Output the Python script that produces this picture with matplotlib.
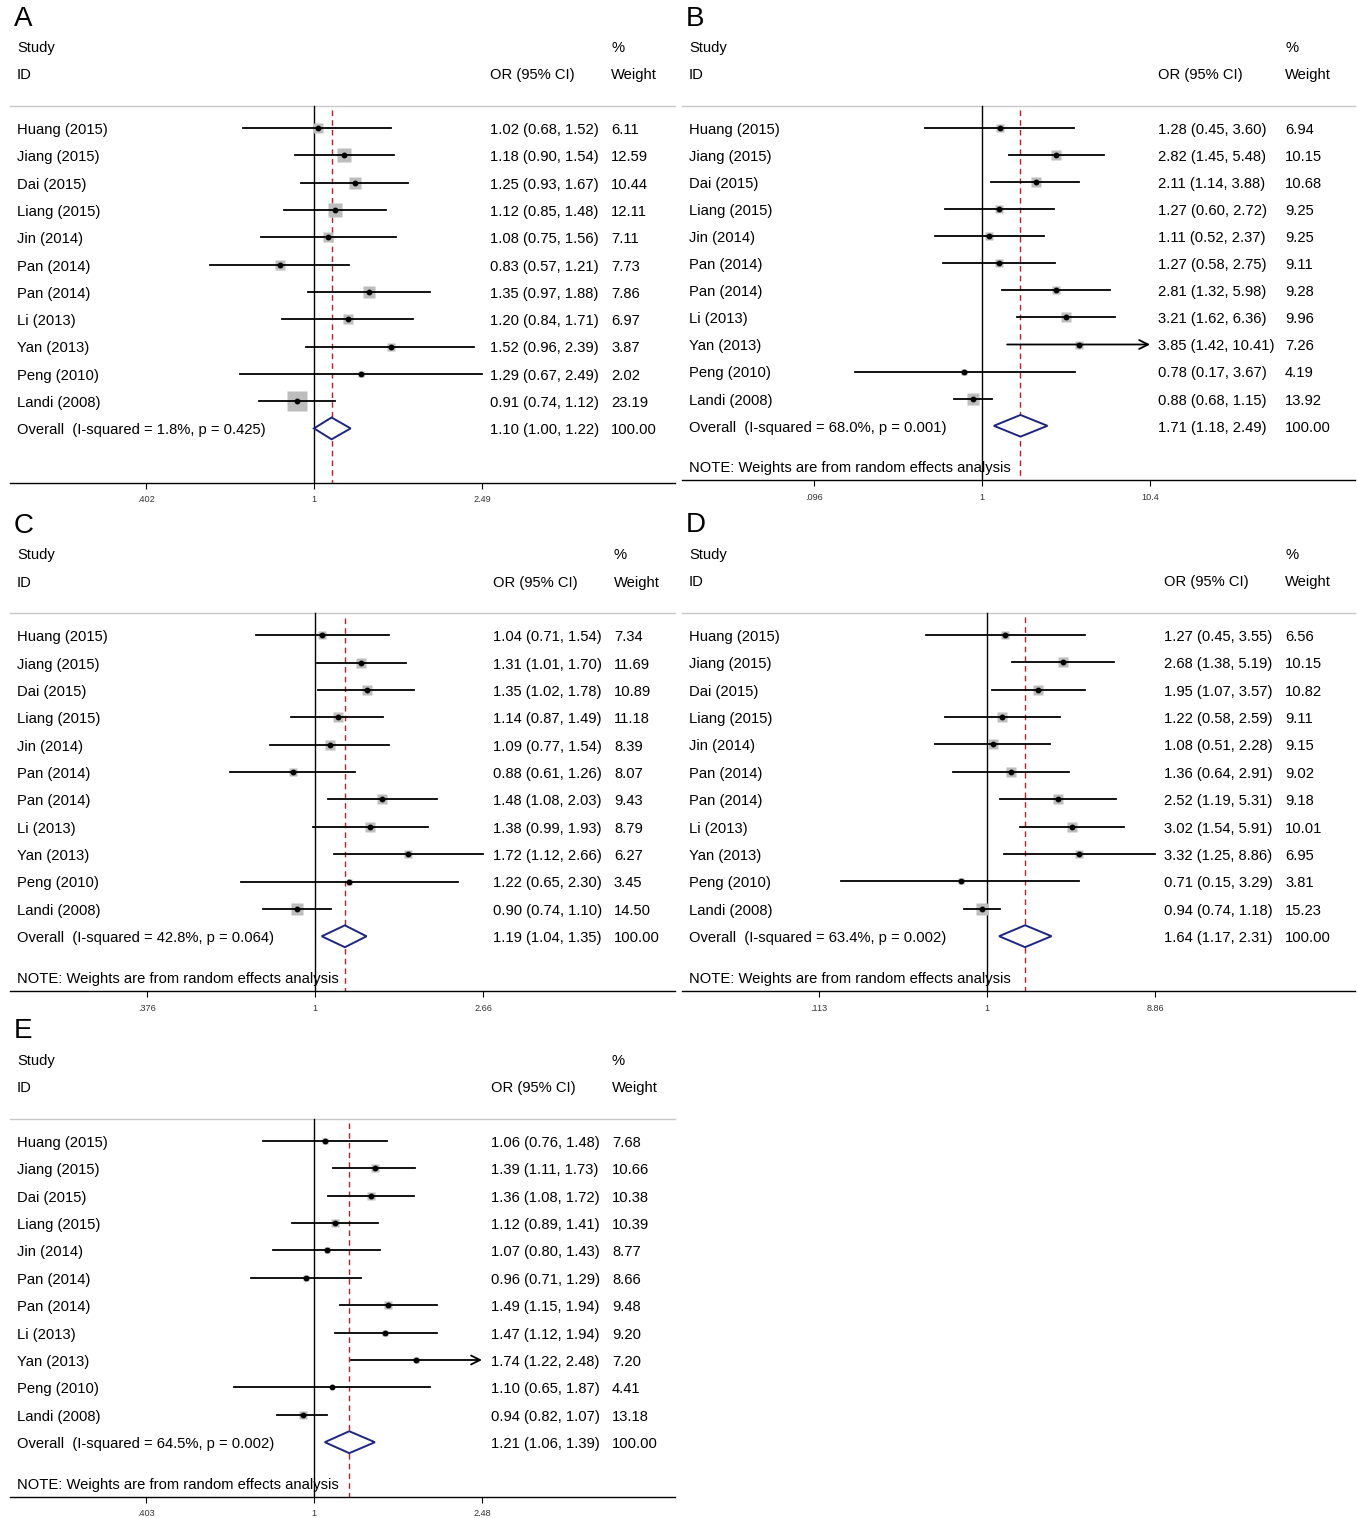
import numpy as np
import matplotlib.pyplot as plt
from matplotlib.patches import Polygon
from matplotlib.ticker import FixedLocator, FixedFormatter, NullLocator
from matplotlib.transforms import blended_transform_factory

plt.rcParams['font.family'] = ['Liberation Sans', 'DejaVu Sans']

studies = ["Huang (2015)", "Jiang (2015)", "Dai (2015)", "Liang (2015)", "Jin (2014)",
           "Pan (2014)", "Pan (2014)", "Li (2013)", "Yan (2013)", "Peng (2010)", "Landi (2008)"]

# A
or_a = [1.02, 1.18, 1.25, 1.12, 1.08, 0.83, 1.35, 1.20, 1.52, 1.29, 0.91]
lo_a = [0.68, 0.90, 0.93, 0.85, 0.75, 0.57, 0.97, 0.84, 0.96, 0.67, 0.74]
hi_a = [1.52, 1.54, 1.67, 1.48, 1.56, 1.21, 1.88, 1.71, 2.39, 2.49, 1.12]
wt_a = [6.11, 12.59, 10.44, 12.11, 7.11, 7.73, 7.86, 6.97, 3.87, 2.02, 23.19]
pool_a = [1.10, 1.00, 1.22]
isq_a, p_a = 1.8, 0.425
ticks_a = [0.402, 1, 2.49]
tlab_a = [".402", "1", "2.49"]

# B
or_b = [1.28, 2.82, 2.11, 1.27, 1.11, 1.27, 2.81, 3.21, 3.85, 0.78, 0.88]
lo_b = [0.45, 1.45, 1.14, 0.60, 0.52, 0.58, 1.32, 1.62, 1.42, 0.17, 0.68]
hi_b = [3.60, 5.48, 3.88, 2.72, 2.37, 2.75, 5.98, 6.36, 10.41, 3.67, 1.15]
wt_b = [6.94, 10.15, 10.68, 9.25, 9.25, 9.11, 9.28, 9.96, 7.26, 4.19, 13.92]
pool_b = [1.71, 1.18, 2.49]
isq_b, p_b = 68.0, 0.001
ticks_b = [0.096, 1, 10.4]
tlab_b = [".096", "1", "10.4"]

# C
or_c = [1.04, 1.31, 1.35, 1.14, 1.09, 0.88, 1.48, 1.38, 1.72, 1.22, 0.90]
lo_c = [0.71, 1.01, 1.02, 0.87, 0.77, 0.61, 1.08, 0.99, 1.12, 0.65, 0.74]
hi_c = [1.54, 1.70, 1.78, 1.49, 1.54, 1.26, 2.03, 1.93, 2.66, 2.30, 1.10]
wt_c = [7.34, 11.69, 10.89, 11.18, 8.39, 8.07, 9.43, 8.79, 6.27, 3.45, 14.50]
pool_c = [1.19, 1.04, 1.35]
isq_c, p_c = 42.8, 0.064
ticks_c = [0.376, 1, 2.66]
tlab_c = [".376", "1", "2.66"]

# D
or_d = [1.27, 2.68, 1.95, 1.22, 1.08, 1.36, 2.52, 3.02, 3.32, 0.71, 0.94]
lo_d = [0.45, 1.38, 1.07, 0.58, 0.51, 0.64, 1.19, 1.54, 1.25, 0.15, 0.74]
hi_d = [3.55, 5.19, 3.57, 2.59, 2.28, 2.91, 5.31, 5.91, 8.86, 3.29, 1.18]
wt_d = [6.56, 10.15, 10.82, 9.11, 9.15, 9.02, 9.18, 10.01, 6.95, 3.81, 15.23]
pool_d = [1.64, 1.17, 2.31]
isq_d, p_d = 63.4, 0.002
ticks_d = [0.113, 1, 8.86]
tlab_d = [".113", "1", "8.86"]

# E
or_e = [1.06, 1.39, 1.36, 1.12, 1.07, 0.96, 1.49, 1.47, 1.74, 1.10, 0.94]
lo_e = [0.76, 1.11, 1.08, 0.89, 0.80, 0.71, 1.15, 1.12, 1.22, 0.65, 0.82]
hi_e = [1.48, 1.73, 1.72, 1.41, 1.43, 1.29, 1.94, 1.94, 2.48, 1.87, 1.07]
wt_e = [7.68, 10.66, 10.38, 10.39, 8.77, 8.66, 9.48, 9.20, 7.20, 4.41, 13.18]
pool_e = [1.21, 1.06, 1.39]
isq_e, p_e = 64.5, 0.002
ticks_e = [0.403, 1, 2.48]
tlab_e = [".403", "1", "2.48"]

W, H = 1357, 1518
fig = plt.figure(figsize=(W / 100, H / 100), dpi=100)
PX2PT = 0.72
DY = 0.07   # text sits a touch below the CI line


def forest(letter, est, lo, hi, wt, pool, isq, p, ticks, tlab, geo, arrows=(), note=True):
    left, width, axis_y, row_h, one_px, or_px, wt_px, box_k = geo
    top = axis_y - 17.6 * row_h
    ax = fig.add_axes([left / W, 1 - axis_y / H, width / W, (axis_y - top) / H])
    L = np.log(ticks[-1])
    half = 168.0
    ax.set_xscale('log')
    ax.set_xlim(np.exp(-one_px / half * L), np.exp((width - one_px) / half * L))
    ax.set_ylim(13, -4.6)
    for s in ['top', 'left', 'right']:
        ax.spines[s].set_visible(False)
    ax.spines['bottom'].set_linewidth(1.0)
    ax.yaxis.set_visible(False)
    ax.xaxis.set_major_locator(FixedLocator(ticks))
    ax.xaxis.set_major_formatter(FixedFormatter(tlab))
    ax.xaxis.set_minor_locator(NullLocator())
    ax.tick_params(axis='x', length=4, width=0.8, labelsize=6.6, labelcolor='#333333', pad=5)

    tr = blended_transform_factory(ax.transAxes, ax.transData)
    fs = 10.6
    ax.text(4 / width, -4.0, letter, transform=tr, fontsize=20, va='center', ha='left')
    ax.text(7 / width, -3.0 + DY, "Study", transform=tr, fontsize=fs, va='center')
    ax.text(7 / width, -2.0 + DY, "ID", transform=tr, fontsize=fs, va='center')
    ax.text(or_px / width, -2.0 + DY, "OR (95% CI)", transform=tr, fontsize=fs, va='center')
    ax.text(wt_px / width, -3.0 + DY, "%", transform=tr, fontsize=fs, va='center')
    ax.text(wt_px / width, -2.0 + DY, "Weight", transform=tr, fontsize=fs, va='center')
    ax.plot([0, 1], [-0.8, -0.8], transform=tr, color='#c8c8c8', lw=1.0, clip_on=False)

    # null line and pooled estimate line
    ax.plot([1, 1], [-0.8, 13], color='black', lw=1.0)
    ax.plot([pool[0], pool[0]], [-0.65, 13], color='#b5202a', lw=1.0, dashes=(4, 3))

    for i, name in enumerate(studies):
        ax.text(7 / width, i + DY, name, transform=tr, fontsize=fs, va='center')
        ax.text(or_px / width, i + DY, f"{est[i]:.2f} ({lo[i]:.2f}, {hi[i]:.2f})",
                transform=tr, fontsize=fs, va='center')
        ax.text(wt_px / width, i + DY, f"{wt[i]:.2f}", transform=tr, fontsize=fs, va='center')
        ax.plot(est[i], i, marker='s', ms=box_k * np.sqrt(wt[i]) * PX2PT,
                color='#bdbdbd', mec='none', zorder=2)
        if i in arrows:
            ax.annotate("", xy=(hi[i], i), xytext=(lo[i], i),
                        arrowprops=dict(arrowstyle='->', lw=1.3, color='black',
                                        mutation_scale=16, shrinkA=0, shrinkB=0), zorder=3)
        else:
            ax.plot([lo[i], hi[i]], [i, i], color='black', lw=1.3, zorder=3)
        ax.plot(est[i], i, marker='o', ms=3.2, color='black', zorder=4)

    n = len(studies)
    dia = Polygon([[pool[1], n], [pool[0], n - 0.4], [pool[2], n], [pool[0], n + 0.4]],
                  closed=True, facecolor='white', edgecolor='#1c2580', lw=1.4, zorder=5)
    ax.add_patch(dia)
    ax.text(7 / width, n + DY, f"Overall  (I-squared = {isq:.1f}%, p = {p:.3f})",
            transform=tr, fontsize=fs, va='center')
    ax.text(or_px / width, n + DY, f"{pool[0]:.2f} ({pool[1]:.2f}, {pool[2]:.2f})",
            transform=tr, fontsize=fs, va='center')
    ax.text(wt_px / width, n + DY, "100.00", transform=tr, fontsize=fs, va='center')
    if note:
        ax.text(7 / width, 12.5 + DY, "NOTE: Weights are from random effects analysis",
                transform=tr, fontsize=fs, va='center', zorder=6)
    return ax


# left, width, axis y, row height, px to OR=1, OR column, weight column, box scale
forest("A", or_a, lo_a, hi_a, wt_a, pool_a, isq_a, p_a, ticks_a, tlab_a,
       (10, 665, 483, 27.3, 304, 480, 601, 3.95), note=False)
forest("B", or_b, lo_b, hi_b, wt_b, pool_b, isq_b, p_b, ticks_b, tlab_b,
       (682, 673, 480, 27.1, 300, 476, 603, 2.95), arrows=(8,))
forest("C", or_c, lo_c, hi_c, wt_c, pool_c, isq_c, p_c, ticks_c, tlab_c,
       (10, 665, 991, 27.36, 305, 483, 604, 3.15))
forest("D", or_d, lo_d, hi_d, wt_d, pool_d, isq_d, p_d, ticks_d, tlab_d,
       (682, 673, 991, 27.4, 305, 482, 603, 3.33))
forest("E", or_e, lo_e, hi_e, wt_e, pool_e, isq_e, p_e, ticks_e, tlab_e,
       (10, 665, 1497, 27.4, 304, 481, 602, 2.3), arrows=(8,))

fig.savefig("out.png", dpi=100)
